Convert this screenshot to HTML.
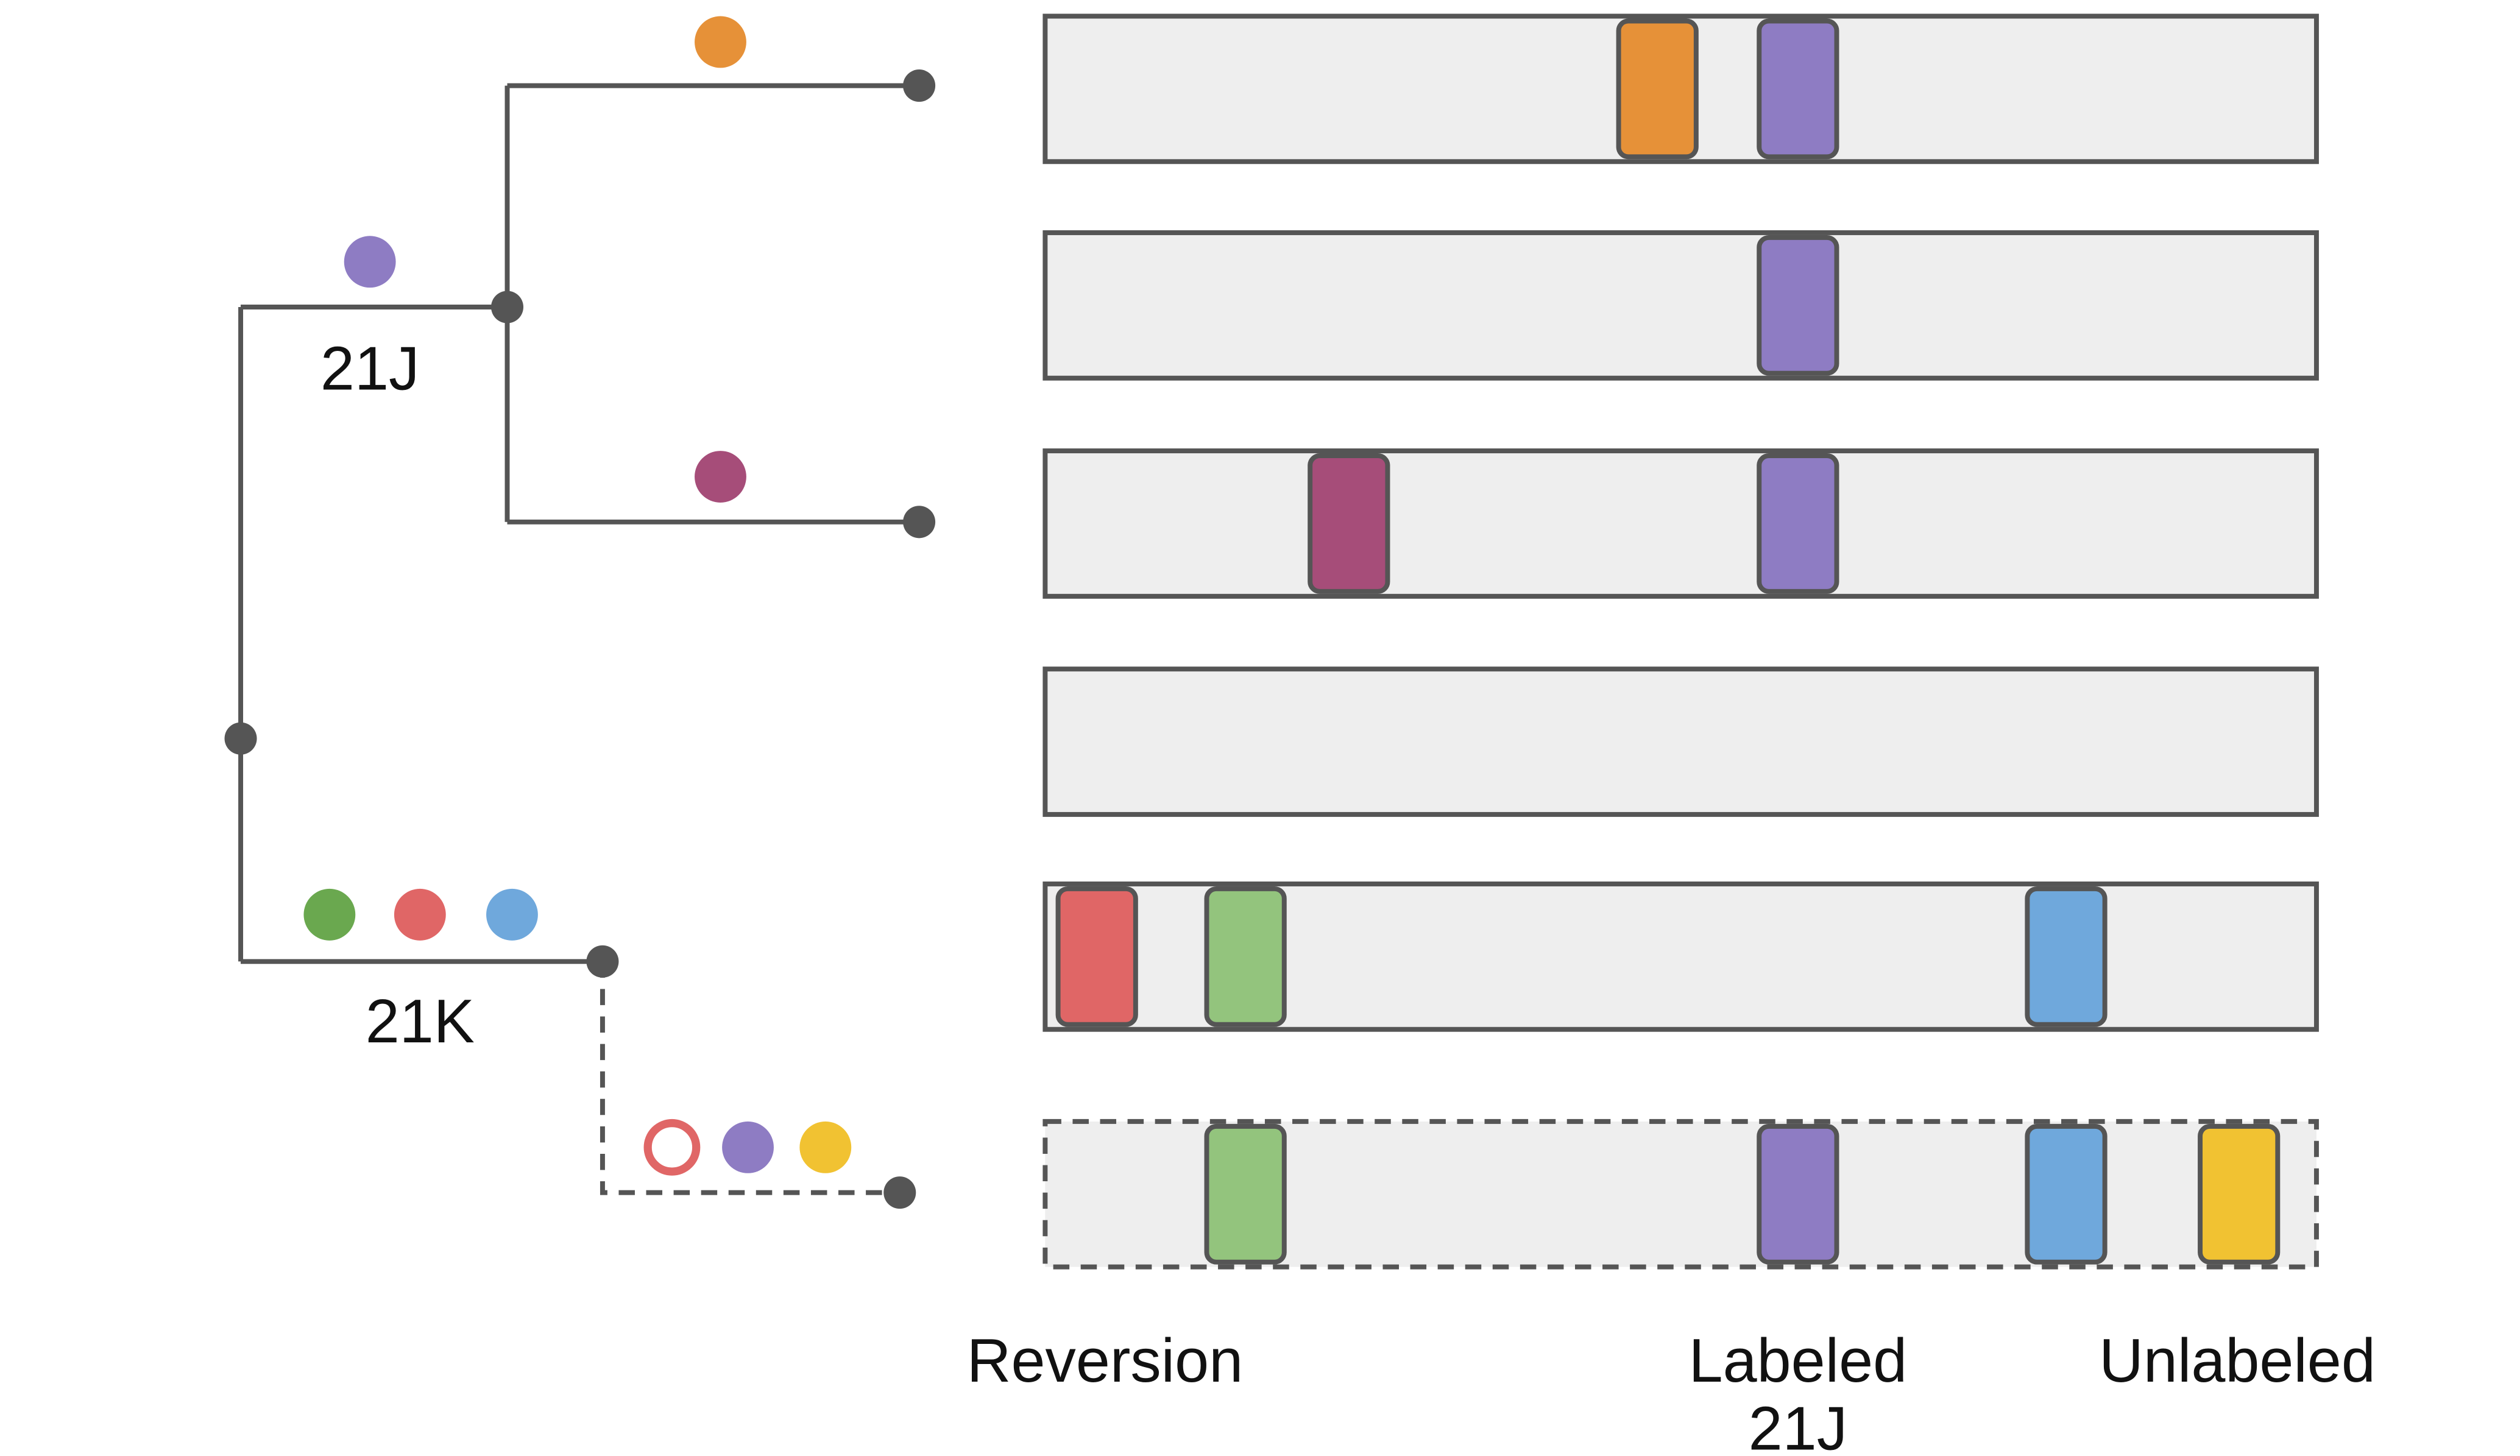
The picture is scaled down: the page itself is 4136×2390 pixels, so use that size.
<!DOCTYPE html>
<html><head><meta charset="utf-8"><style>html,body{margin:0;padding:0;background:#fff;}svg{display:block;}</style></head>
<body>
<svg id="chart" xmlns="http://www.w3.org/2000/svg" width="4136" height="2390" viewBox="0 0 1560 901" preserveAspectRatio="none" font-family="'Liberation Sans', sans-serif">
<g id="tree" stroke="#555" stroke-width="3" fill="none">
<path d="M149,190 V595"/>
<path d="M149,190 H314"/>
<path d="M314,53 V323"/>
<path d="M314,53 H569"/>
<path d="M314,323 H569"/>
<path d="M149,595 H373"/>
<path d="M373,595 V738 H557" stroke-dasharray="10,7"/>
</g>
<g fill="#555">
<circle cx="149" cy="457" r="10"/>
<circle cx="314" cy="190" r="10"/>
<circle cx="569" cy="53" r="10"/>
<circle cx="569" cy="323" r="10"/>
<circle cx="373" cy="595" r="10"/>
<circle cx="557" cy="738" r="10"/>
</g>
<g id="dots"></g>
<text x="229" y="241" font-size="38" text-anchor="middle" fill="#111">21J</text>
<text x="260" y="645" font-size="38" text-anchor="middle" fill="#111">21K</text>
<g id="rows"></g>
<text x="684" y="855" font-size="38" text-anchor="middle" fill="#111">Reversion</text>
<text x="1113" y="855" font-size="38" text-anchor="middle" fill="#111">Labeled</text>
<text x="1113" y="897" font-size="38" text-anchor="middle" fill="#111">21J</text>
<text x="1385" y="855" font-size="38" text-anchor="middle" fill="#111">Unlabeled</text>
</svg>
<script>
const rowTops = [10, 144, 279, 414, 547, 694];
const rowDashed = [false, false, false, false, false, true];
const blockRow = [0, 0, 1, 2, 2, 4, 4, 4, 5, 5, 5, 5];
const blockPos = [1002, 1089, 1089, 811, 1089, 655, 747, 1255, 747, 1089, 1255, 1362];
const blockColor = ['#e69138','#8e7cc3','#8e7cc3','#a64d79','#8e7cc3','#e06666','#93c47d','#6fa8dc','#93c47d','#8e7cc3','#6fa8dc','#f1c232'];
const dotX = [446, 229, 446, 204, 260, 317, 416, 463, 511];
const dotY = [26, 162, 295, 566, 566, 566, 710, 710, 710];
const dotColor = ['#e69138','#8e7cc3','#a64d79','#6aa84f','#e06666','#6fa8dc','#e06666','#8e7cc3','#f1c232'];
const dotHollow = [false,false,false,false,false,false,true,false,false];
const NS = 'http://www.w3.org/2000/svg';
const rows = document.getElementById('rows');
rowTops.forEach((y, i) => {
  const r = document.createElementNS(NS, 'rect');
  r.setAttribute('x', 647); r.setAttribute('y', y);
  r.setAttribute('width', 787); r.setAttribute('height', 90);
  r.setAttribute('fill', '#eee'); r.setAttribute('stroke', '#555'); r.setAttribute('stroke-width', 3);
  if (rowDashed[i]) r.setAttribute('stroke-dasharray', '10,7');
  
  
  rows.appendChild(r);
});
blockPos.forEach((x, i) => {
  const y = rowTops[blockRow[i]];
  const b = document.createElementNS(NS, 'rect');
  b.setAttribute('x', x); b.setAttribute('y', y + 3);
  b.setAttribute('width', 48); b.setAttribute('height', 84);
  b.setAttribute('rx', 6);
  b.setAttribute('fill', blockColor[i]); b.setAttribute('stroke', '#555'); b.setAttribute('stroke-width', 3);
  
  
  rows.appendChild(b);
});
const dots = document.getElementById('dots');
dotX.forEach((x, i) => {
  const c = document.createElementNS(NS, 'circle');
  c.setAttribute('cx', x); c.setAttribute('cy', dotY[i]);
  if (dotHollow[i]) {
    c.setAttribute('r', 15); c.setAttribute('fill', '#fff');
    c.setAttribute('stroke', dotColor[i]); c.setAttribute('stroke-width', 5);
  } else {
    c.setAttribute('r', 16); c.setAttribute('fill', dotColor[i]);
  }
  
  
  dots.appendChild(c);
});
</script>
</body></html>
